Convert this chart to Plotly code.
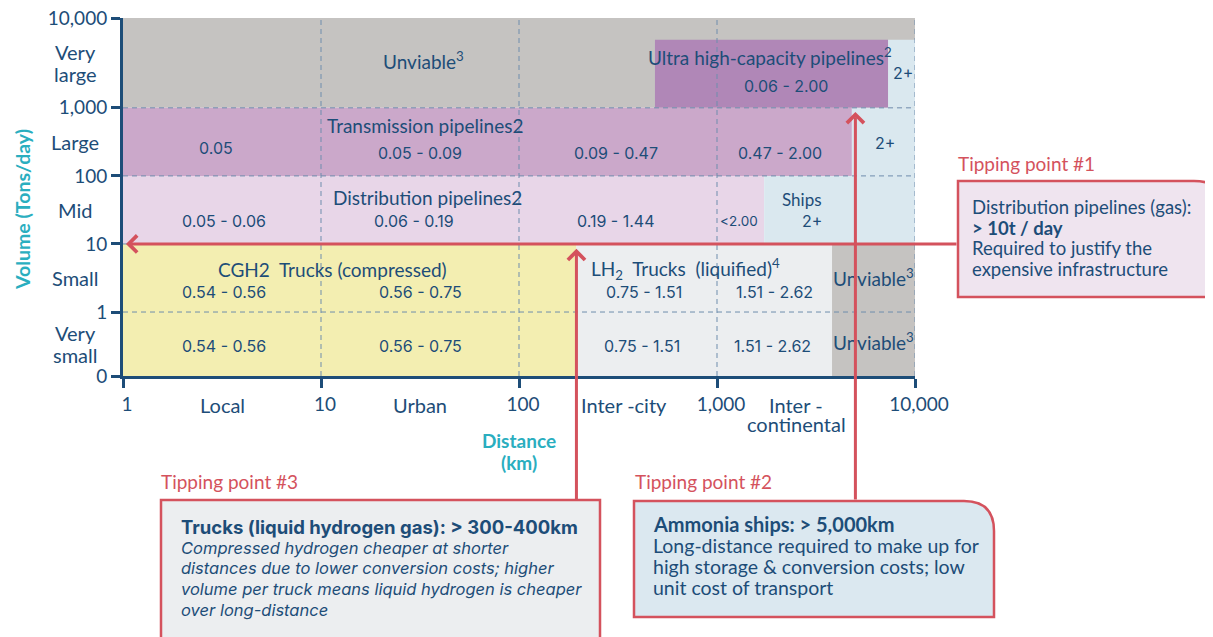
import numpy as np
import plotly.graph_objects as go

# ---------------- figure geometry ----------------
W, H = 1213, 637
PAGE_OFF = 8                      # default page margin around the plot div
ML, MT = 123 - PAGE_OFF, 18 - PAGE_OFF
PW, PH = 792, 358
MR = W - ML - PW
MB = H - MT - PH

NAVY = "#1d4d78"
TEAL = "#2aaebf"
RED = "#d4525d"
GRID = "#6f8dad"
LABEL_FONT = "Lato"
NUM_FONT = "Inter"

# ---------------- data ----------------
distance_ticks = [1, 10, 100, 1000, 10000]
distance_tick_labels = ["1", "10", "100", "1,000", "10,000"]
distance_classes = ["Local", "Urban", "Inter -city", "Inter -<br>continental"]
distance_class_pos = [0.5, 1.5, 2.53, 3.4]  # log10 km

volume_tick_labels = ["0", "1", "10", "100", "1,000", "10,000"]
volume_tick_levels = [0.06, 1, 2, 3, 4, 5.32]
volume_classes = ["Very<br>small", "Small", "Mid", "Large", "Very<br>large"]

region_names = ["Unviable (very large)", "Ultra high-capacity pipelines", "Ships (very large)",
                "Transmission pipelines", "Ships (large)", "Distribution pipelines", "Ships (mid)",
                "CGH2 trucks", "LH2 trucks", "Unviable (small)"]
region_km_from = [1, 486, 7310, 1, 4800, 1, 1730, 1, 195, 3810]
region_km_to = [10000, 7310, 10000, 4800, 10000, 1730, 10000, 195, 3810, 10000]
region_level_from = [4, 4, 4, 3, 3, 2, 2, 0.06, 0.06, 0.06]
region_level_to = [5.32, 5.0, 5.0, 4, 4, 3, 3, 2, 2, 2]
region_colors = ["#c5c3c1", "#b087b7", "#dae8ef", "#cba8ca", "#dae8ef",
                 "#e8d6e8", "#dae8ef", "#f3eeb1", "#eceef0", "#c5c3c1"]

title_texts = ["Unviable<sup>3</sup>", "Ultra high-capacity pipelines<sup>2</sup>",
               "Transmission pipelines2", "Distribution pipelines2", "Ships",
               "CGH2  Trucks (compressed)", "LH<sub>2</sub>  Trucks  (liquified)<sup>4</sup>",
               "Unviable<sup>3</sup>", "Unviable<sup>3</sup>"]
title_x = [1.52, 3.27, 1.525, 1.54, 3.43, 1.06, 2.84, 3.79, 3.79]
title_y = [4.69, 4.75, 3.74, 2.68, 2.66, 1.63, 1.63, 1.51, 0.56]
title_size = [19, 19, 19, 19, 17, 19, 19, 19, 19]

cost_texts = ["0.06 - 2.00", "2+",
              "0.05", "0.05 - 0.09", "0.09 - 0.47", "0.47 - 2.00", "2+",
              "0.05 - 0.06", "0.06 - 0.19", "0.19 - 1.44", "&lt;2.00", "2+",
              "0.54 - 0.56", "0.56 - 0.75", "0.75 - 1.51", "1.51 - 2.62",
              "0.54 - 0.56", "0.56 - 0.75", "0.75 - 1.51", "1.51 - 2.62"]
cost_x = [3.35, 3.94,
          0.47, 1.5, 2.49, 3.32, 3.85,
          0.51, 1.47, 2.49, 3.11, 3.48,
          0.51, 1.5, 2.63, 3.29,
          0.51, 1.5, 2.62, 3.28]
cost_y = [4.32, 4.51,
          3.41, 3.34, 3.34, 3.34, 3.49,
          2.34, 2.34, 2.34, 2.34, 2.34,
          1.29, 1.29, 1.29, 1.29,
          0.5, 0.5, 0.5, 0.5]
cost_size = [16, 16,
             16, 16, 16, 16, 16,
             16, 16, 16, 13.5, 16,
             16, 16, 16, 16,
             16, 16, 16, 16]

tipping_volume_level = 2        # 10 t/day
tipping_trucks_km = 195
tipping_ships_km = 5000

# ---------------- helpers (visible page pixels -> paper) ----------------
def xp(px):
    return (px - PAGE_OFF - ML) / PW


def yp(py):
    return (H - MB - (py - PAGE_OFF)) / PH


fig = go.Figure()

for name, k0, k1, l0, l1, c in zip(region_names, region_km_from, region_km_to,
                                   region_level_from, region_level_to, region_colors):
    fig.add_trace(go.Scatter(
        x=[k0, k1, k1, k0, k0], y=[l0, l0, l1, l1, l0], mode="lines",
        fill="toself", fillcolor=c, line=dict(width=0), name=name,
        hoverinfo="skip", showlegend=False))

# dashed grid drawn over the regions
for k in distance_ticks[1:]:
    fig.add_trace(go.Scatter(x=[k, k], y=[volume_tick_levels[0], volume_tick_levels[-1]],
                             mode="lines", line=dict(color=GRID, width=1, dash="5px,4px"),
                             hoverinfo="skip", showlegend=False))
for lv in volume_tick_levels[1:5]:
    fig.add_trace(go.Scatter(x=[distance_ticks[0], distance_ticks[-1]], y=[lv, lv],
                             mode="lines", line=dict(color=GRID, width=1, dash="5px,4px"),
                             hoverinfo="skip", showlegend=False))

ann = []
for t, x, y, s in zip(title_texts, title_x, title_y, title_size):
    ann.append(dict(text=t, x=x, y=y, xref="x", yref="y", showarrow=False,
                    font=dict(family=LABEL_FONT, size=s, color=NAVY)))
for t, x, y, s in zip(cost_texts, cost_x, cost_y, cost_size):
    ann.append(dict(text=t, x=x, y=y, xref="x", yref="y", showarrow=False,
                    font=dict(family=NUM_FONT, size=s, color=NAVY)))


def stacked(text, step):
    parts = text.split("<br>")
    n = len(parts)
    return [(p, (n - 1) / 2 * step - i * step) for i, p in enumerate(parts)]


# volume class labels
for i, t in enumerate(volume_classes):
    ymid = (volume_tick_levels[i] + volume_tick_levels[i + 1]) / 2
    for part, shift in stacked(t, 22.5):
        ann.append(dict(text=part, x=xp(75), y=ymid, yshift=shift, xref="paper", yref="y",
                        showarrow=False, xanchor="center", yanchor="middle",
                        font=dict(family=LABEL_FONT, size=20, color=NAVY)))
# distance class labels
for t, x in zip(distance_classes, distance_class_pos):
    n = len(t.split("<br>"))
    for part, shift in stacked(t, 19):
        ann.append(dict(text=part, x=x, y=yp(405), yshift=shift - (n - 1) * 9.5,
                        xref="x", yref="paper", showarrow=False, yanchor="middle",
                        font=dict(family=LABEL_FONT, size=20, color=NAVY)))

# axis titles
for part, shift in stacked("<b>Distance</b><br><b>(km)</b>", 22):
    ann.append(dict(text=part, x=2.0, y=yp(451), yshift=shift, xref="x", yref="paper",
                    showarrow=False, yanchor="middle",
                    font=dict(family=LABEL_FONT, size=19, color=TEAL)))
ann.append(dict(text="<b>Volume (Tons/day)</b>", x=xp(22), y=yp(210), xref="paper",
                yref="paper", showarrow=False, textangle=-90, xanchor="center",
                yanchor="middle", font=dict(family=LABEL_FONT, size=19.5, color=TEAL)))

# tipping arrows
ann.append(dict(text="", x=np.log10(1.035), y=tipping_volume_level, xref="x", yref="y",
                showarrow=True, arrowhead=4, arrowsize=1.1, arrowwidth=3, arrowcolor=RED,
                ax=832, ay=0, standoff=0))
ann.append(dict(text="", x=np.log10(tipping_trucks_km), y=tipping_volume_level - 0.07,
                xref="x", yref="y",
                showarrow=True, arrowhead=4, arrowsize=1.1, arrowwidth=3, arrowcolor=RED,
                ax=0, ay=252, standoff=0))
ann.append(dict(text="", x=np.log10(tipping_ships_km), y=3.94, xref="x", yref="y",
                showarrow=True, arrowhead=4, arrowsize=1.1, arrowwidth=3, arrowcolor=RED,
                ax=0, ay=389, standoff=0))


# tipping boxes
def box_path(x0, y0, x1, y1, r):
    X0, X1, YT, YB = xp(x0), xp(x1), yp(y0), yp(y1)
    rx, ry = r / PW, r / PH
    if r == 0:
        return f"M {X0},{YB} L {X0},{YT} L {X1},{YT} L {X1},{YB} Z"
    return (f"M {X0},{YB} L {X0},{YT} L {X1 - rx},{YT} Q {X1},{YT} {X1},{YT - ry} "
            f"L {X1},{YB} Z")


shapes = [
    dict(type="path", path=box_path(958, 181, 1226, 297, 32), xref="paper", yref="paper",
         fillcolor="#efe4ef", line=dict(color=RED, width=2.5), layer="above"),
    dict(type="path", path=box_path(161, 500, 600, 660, 0), xref="paper", yref="paper",
         fillcolor="#eceef0", line=dict(color=RED, width=2.5), layer="above"),
    dict(type="path", path=box_path(634, 501, 994, 617, 30), xref="paper", yref="paper",
         fillcolor="#dbe8f0", line=dict(color=RED, width=2.5), layer="above"),
]

for t, x, y in [("Tipping point #1", 956, 163), ("Tipping point #3", 159, 481),
                ("Tipping point #2", 633, 481)]:
    ann.append(dict(text=t, x=xp(x), y=yp(y), xref="paper", yref="paper", showarrow=False,
                    xanchor="left", yanchor="middle",
                    font=dict(family=LABEL_FONT, size=19, color=RED)))


def text_lines(lines, x, y0, step, family, sizes):
    for i, (ln, sz) in enumerate(zip(lines, sizes)):
        ann.append(dict(text=ln, x=xp(x), y=yp(y0 + i * step), xref="paper", yref="paper",
                        showarrow=False, xanchor="left", yanchor="middle", align="left",
                        font=dict(family=family, size=sz, color=NAVY)))


text_lines(["Distribution pipelines (gas):", "<b>&gt; 10t / day</b>",
            "Required to justify the", "expensive infrastructure"],
           970, 207, 20.5, LABEL_FONT, [18.5, 18.5, 18.5, 18.5])
text_lines(["<b>Trucks (liquid hydrogen gas): &gt; 300-400km</b>",
            "<i>Compressed hydrogen cheaper at shorter</i>",
            "<i>distances due to lower conversion costs; higher</i>",
            "<i>volume per truck means liquid hydrogen is cheaper</i>",
            "<i>over long-distance</i>"],
           179, 527, 20.7, NUM_FONT, [18.5, 16.5, 16.5, 16.5, 16.5])
text_lines(["<b>Ammonia ships: &gt; 5,000km</b>",
            "Long-distance required to make up for",
            "high storage &amp; conversion costs; low",
            "unit cost of transport"],
           651, 524, 21, LABEL_FONT, [20, 19.5, 19.5, 19.5])

fig.update_layout(
    width=W, height=H, margin=dict(l=ML, r=MR, t=MT, b=MB, autoexpand=False),
    paper_bgcolor="white", plot_bgcolor="white", showlegend=False,
    annotations=ann, shapes=shapes, hovermode=False,
    xaxis=dict(type="log", range=[0, 4], tickvals=distance_ticks, ticktext=distance_tick_labels,
               showgrid=False, zeroline=False, showline=True, linecolor=NAVY, linewidth=3,
               ticks="outside", ticklen=9, tickwidth=3, tickcolor=NAVY, automargin=False,
               ticklabeloverflow="allow", ticklabelshift=4,
               tickfont=dict(family=LABEL_FONT, size=19, color=NAVY), fixedrange=True),
    yaxis=dict(range=[volume_tick_levels[0], volume_tick_levels[-1]],
               tickvals=volume_tick_levels, ticktext=volume_tick_labels,
               showgrid=False, zeroline=False, showline=True, linecolor=NAVY, linewidth=3,
               ticks="outside", ticklen=9, tickwidth=3, tickcolor=NAVY, automargin=False,
               ticklabeloverflow="allow",
               tickfont=dict(family=LABEL_FONT, size=19, color=NAVY), fixedrange=True),
)

fig.write_html("out.html")
